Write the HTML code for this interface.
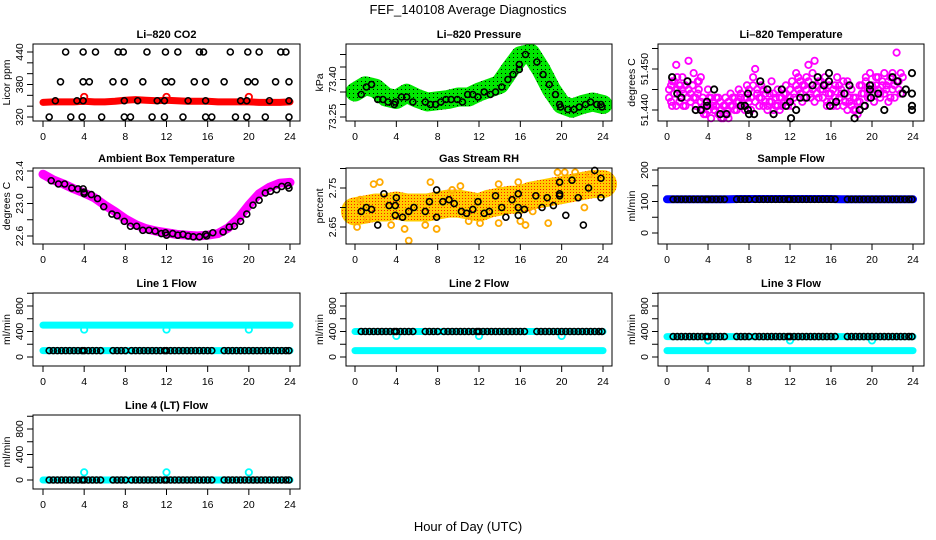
<!DOCTYPE html>
<html><head><meta charset="utf-8"><style>
html,body{margin:0;padding:0;background:#fff}
svg{display:block;font-family:"Liberation Sans",Arial,sans-serif}
</style></head><body>
<svg id="chart" width="936" height="540" viewBox="0 0 936 540" xmlns="http://www.w3.org/2000/svg">
<defs>
<pattern id="pg" width="4" height="4" patternUnits="userSpaceOnUse"><rect width="4" height="4" fill="#00e600"/><rect x="1" y="1" width="1" height="1" fill="#000"/></pattern>
<pattern id="po" width="3" height="3" patternUnits="userSpaceOnUse"><rect width="3" height="3" fill="#ffcc00"/><rect width="1" height="1" fill="#ff2000"/></pattern>
</defs>
<text x="468" y="14" font-size="13" text-anchor="middle">FEF_140108  Average Diagnostics</text>
<text x="468" y="531" font-size="13" text-anchor="middle">Hour of Day (UTC)</text>
</svg>
<script>
// ---- data ----
const bandHours=[0,1,2,3,4,5,6,7,8,9,10,11,12,13,14,15,16,17,18,19,20,21,22,23,24];
const co2Band=[347,348,348,348,349,348,348,349,351,352,351,350,351,350,349,349,349,348,348,348,348,347,347,347,348];
const co2RedOutH=[4,12,20];
const co2RedOutV=[357,357,357];
const co2BlackH=[2.2,3.9,5.1,7.3,7.8,10.1,11.9,13.1,15.2,15.6,18.2,19.9,21.0,23.1,23.6, 1.7,3.9,4.5,6.8,7.9,9.7,11.9,12.5,14.7,15.8,17.6,19.9,20.6,22.6,23.9, 1.2,3.3,3.9,7.9,9.2,11.1,11.8,14.1,15.8,19.2,19.8,22.0,23.9, 0.6,2.7,3.8,5.7,7.9,8.5,10.6,11.8,13.6,15.8,16.4,18.7,19.8,21.6,23.9];
const co2BlackV=[440,440,440,440,440,440,440,440,440,440,440,440,440,440,440, 385,385,385,385,385,385,385,385,385,385,385,385,385,385,385, 350,350,350,350,350,350,350,350,350,350,350,350,350, 320,320,320,320,320,320,320,320,320,320,320,320,320,320,320];
const presBand=[73.35,73.375,73.365,73.33,73.32,73.345,73.325,73.31,73.315,73.32,73.33,73.33,73.35,73.365,73.38,73.44,73.495,73.505,73.44,73.36,73.30,73.285,73.30,73.31,73.30];
const presBlackH=[0.6,1.1,1.6,2.2,2.7,3.2,3.8,3.9,4.5,5.0,5.6,6.8,7.3,7.8,8.3,8.8,9.3,9.9,10.4,10.9,11.4,11.9,12.5,13.1,13.6,14.2,14.8,15.3,15.9,15.9,16.5,17.6,18.2,18.8,19.4,19.8,19.9,20.6,21.2,21.7,22.3,22.8,23.4,23.8,23.9];
const presBlackV=[73.34,73.37,73.38,73.32,73.32,73.31,73.30,73.31,73.33,73.33,73.31,73.31,73.30,73.30,73.31,73.32,73.32,73.32,73.31,73.34,73.34,73.33,73.35,73.34,73.35,73.37,73.40,73.42,73.46,73.44,73.50,73.47,73.42,73.38,73.34,73.30,73.29,73.28,73.28,73.29,73.30,73.31,73.30,73.30,73.29];
const tempH=[0.2,0.4,0.5,0.7,0.9,1.0,1.2,1.3,1.5,1.6,1.8,2.0,2.1,2.3,2.5,2.6,2.8,3.0,3.1,3.3,3.5,3.6,3.8,4.0,4.1,4.3,4.5,4.6,4.8,5.0,5.2,5.3,5.5,5.7,5.9,6.0,6.2,6.4,6.6,6.8,7.0,7.2,7.4,7.6,7.8,8.0,8.2,8.4,8.6,8.8,9.0,9.2,9.4,9.6,9.8,10.0,10.2,10.4,10.6,10.8,11.0,11.2,11.4,11.6,11.8,12.0,12.2,12.4,12.6,12.8,13.0,13.2,13.4,13.6,13.8,14.0,14.2,14.4,14.6,14.8,15.0,15.2,15.4,15.6,15.8,16.0,16.2,16.4,16.6,16.8,17.0,17.2,17.4,17.6,17.8,18.0,18.2,18.4,18.6,18.8,19.0,19.2,19.4,19.6,19.8,20.0,20.2,20.4,20.6,20.8,21.0,21.2,21.4,21.6,21.8,22.0,22.2,22.4,22.6,22.8,23.0,23.2,23.4,23.6,23.8];
const tempV1=[51.443,51.446,51.441,51.447,51.451,51.445,51.442,51.446,51.448,51.444,51.441,51.447,51.452,51.444,51.446,51.449,51.443,51.447,51.445,51.448,51.440,51.439,51.442,51.445,51.440,51.443,51.441,51.440,51.443,51.439,51.442,51.440,51.438,51.441,51.439,51.442,51.444,51.441,51.443,51.440,51.442,51.444,51.441,51.443,51.446,51.442,51.440,51.448,51.450,51.445,51.443,51.446,51.441,51.444,51.440,51.442,51.447,51.444,51.441,51.445,51.443,51.441,51.444,51.446,51.442,51.445,51.447,51.443,51.449,51.445,51.447,51.442,51.446,51.448,51.451,51.444,51.449,51.452,51.446,51.443,51.447,51.445,51.448,51.442,51.446,51.444,51.441,51.446,51.448,51.443,51.445,51.441,51.444,51.447,51.442,51.445,51.440,51.443,51.439,51.442,51.446,51.444,51.448,51.443,51.449,51.445,51.442,51.446,51.448,51.444,51.446,51.449,51.445,51.447,51.443,51.449,51.446,51.454,51.447,51.444,51.448];
const tempV2=[51.445,51.442,51.447,51.444,51.441,51.448,51.446,51.443,51.445,51.441,51.446,51.443,51.445,51.442,51.446,51.443,51.441,51.444,51.447,51.442,51.443,51.441,51.439,51.441,51.443,51.438,51.442,51.440,51.441,51.443,51.440,51.438,51.441,51.443,51.440,51.438,51.441,51.443,51.440,51.442,51.445,51.443,51.441,51.440,51.443,51.445,51.443,51.446,51.442,51.444,51.441,51.443,51.445,51.442,51.441,51.444,51.442,51.440,51.443,51.441,51.440,51.443,51.442,51.444,51.441,51.443,51.441,51.444,51.446,51.448,51.444,51.446,51.443,51.445,51.447,51.443,51.445,51.442,51.444,51.447,51.445,51.443,51.446,51.441,51.444,51.442,51.445,51.443,51.441,51.446,51.444,51.447,51.442,51.440,51.443,51.441,51.443,51.440,51.442,51.446,51.444,51.441,51.447,51.445,51.443,51.446,51.444,51.448,51.445,51.443,51.447,51.444,51.446,51.442,51.448,51.445,51.443,51.447,51.445,51.449];
const tempBlackH=[0.5,1.0,1.4,2.0,2.8,3.3,3.9,3.9,4.6,5.2,5.8,7.2,7.6,7.9,7.9,8.0,8.5,9.1,9.8,10.4,11.2,11.6,12.0,12.1,12.6,13.0,13.6,14.2,14.7,15.3,15.8,15.8,15.9,16.5,17.3,17.8,18.3,18.8,19.3,19.8,19.8,19.9,20.6,21.2,22.0,22.5,23.0,23.3,23.9,23.9,23.9,23.9];
const tempBlackV=[51.448,51.444,51.443,51.447,51.440,51.440,51.442,51.441,51.445,51.439,51.439,51.441,51.441,51.444,51.440,51.439,51.439,51.447,51.445,51.439,51.445,51.441,51.442,51.438,51.440,51.443,51.443,51.446,51.448,51.446,51.447,51.449,51.441,51.442,51.444,51.446,51.438,51.440,51.441,51.446,51.445,51.443,51.444,51.440,51.448,51.447,51.444,51.445,51.449,51.444,51.441,51.440];
const ambBand=[23.36,23.29,23.24,23.18,23.13,23.07,22.98,22.90,22.81,22.74,22.69,22.66,22.64,22.62,22.61,22.60,22.61,22.63,22.70,22.82,22.98,23.12,23.20,23.25,23.26];
const ambBlackH=[0.8,1.5,2.1,2.8,3.4,3.9,4.0,4.0,4.7,5.3,5.9,6.7,7.2,7.9,8.5,9.1,9.7,10.3,10.9,11.5,11.9,12.0,12.6,13.1,13.6,14.1,14.6,15.2,15.8,15.9,16.5,17.5,18.1,18.6,19.2,19.8,20.4,21.0,21.6,22.1,22.7,23.2,23.8,23.9];
const ambBlackV=[23.28,23.24,23.24,23.19,23.18,23.18,23.14,23.12,23.11,23.06,22.96,22.87,22.85,22.78,22.72,22.72,22.67,22.67,22.66,22.63,22.64,22.61,22.63,22.61,22.62,22.60,22.59,22.59,22.62,22.60,22.64,22.65,22.71,22.72,22.78,22.87,22.98,23.04,23.13,23.15,23.17,23.21,23.22,23.19];
const rhBand=[2.69,2.695,2.70,2.70,2.705,2.70,2.70,2.70,2.705,2.71,2.71,2.705,2.70,2.71,2.715,2.72,2.72,2.73,2.735,2.74,2.745,2.75,2.755,2.76,2.76];
const rhOutH=[0.2,5.2,4.8,7.9,3.5,6.8,12.1,13.9,16.0,18.7,1.8,2.4,7.3,10.2,13.9,15.8,19.6,22.7,21.3,20.3,22.2,16.5,0.5,1.2,9.4,11.0,17.2];
const rhOutV=[2.65,2.615,2.645,2.645,2.655,2.655,2.66,2.66,2.665,2.66,2.76,2.765,2.765,2.755,2.76,2.765,2.79,2.785,2.79,2.79,2.70,2.655,2.72,2.67,2.745,2.665,2.69];
const rhBlackH=[0.6,1.1,1.6,2.2,2.8,3.3,3.9,3.9,4.0,4.6,5.2,5.7,6.8,7.2,7.9,7.9,8.5,9.1,9.6,10.3,10.8,11.4,11.9,12.5,13.0,13.6,14.2,14.6,15.2,15.8,15.8,15.8,16.4,17.5,18.1,18.6,19.2,19.8,19.8,19.8,20.4,21.0,21.6,22.1,22.6,23.2,23.8,23.8];
const rhBlackV=[2.69,2.70,2.695,2.655,2.735,2.705,2.705,2.68,2.725,2.675,2.69,2.70,2.69,2.715,2.745,2.675,2.715,2.72,2.71,2.69,2.685,2.695,2.715,2.685,2.69,2.73,2.70,2.675,2.72,2.735,2.70,2.68,2.695,2.73,2.70,2.725,2.705,2.765,2.735,2.73,2.68,2.77,2.725,2.655,2.75,2.795,2.775,2.725];
const flowHours=[0.6,1.0,1.4,1.8,2.2,2.6,3.0,3.4,3.8,4.0,4.4,4.8,5.2,5.6,6.8,7.2,7.6,8.0,8.6,9.0,9.4,9.8,10.2,10.6,11.0,11.4,11.8,12.0,12.4,12.8,13.2,13.6,14.0,14.4,14.8,15.2,15.6,16.0,16.4,17.6,18.0,18.4,18.8,19.2,19.6,20.0,20.4,20.8,21.2,21.6,22.0,22.4,22.8,23.2,23.6,23.9];
const sampleBand=[107,107,107,107,107,107,107,108,108,108,108,108,108,108,108,108,108,107,107,107,107,107,107,107,107];
const sampleBlackV=107;
const line1Cyan=[500,100]; const line1Black=100; const line1OutV=430;
const line2Cyan=[400,100]; const line2Black=400; const line2OutV=330;
const line3Cyan=[320,100]; const line3Black=320; const line3OutV=260;
const line4Cyan=[0]; const line4Black=0; const line4OutV=120;
const outHours=[4,12,20];
const xTicks=[0,4,8,12,16,20,24];

const NS="http://www.w3.org/2000/svg";
const svg=document.getElementById('chart');
function mk(tag,attrs,parent){const e=document.createElementNS(NS,tag);for(const k in attrs)e.setAttribute(k,attrs[k]);(parent||svg).appendChild(e);return e;}

const cols=[{l:33,r:300,x0:43,x24:290},{l:346,r:612,x0:355,x24:603},{l:658,r:924,x0:667,x24:913}];
const rows=[{t:44,b:121},{t:168,b:244},{t:293,b:366},{t:415,b:489}];

function panel(name,title,ci,ri,yref,ticks,labels,ylab){
  const c=cols[ci],r=rows[ri];
  const g=mk('g',{});
  
  
  const X=h=>c.x0+h*(c.x24-c.x0)/24;
  const Y=v=>yref[1]+(v-yref[0])*(yref[3]-yref[1])/(yref[2]-yref[0]);
  const t=mk('text',{x:(c.l+c.r)/2,y:r.t-6,'font-size':11,'font-weight':'bold','text-anchor':'middle'},g);
  t.textContent=title;
  
  
  const data=mk('g',{},g);
  
  
  const box=mk('rect',{x:c.l,y:r.t,width:c.r-c.l,height:r.b-r.t,fill:'none',stroke:'#000','stroke-width':1},g);
  
  
  const xa=mk('g',{},g);
  
  
  mk('line',{x1:X(0),x2:X(24),y1:r.b,y2:r.b,stroke:'#000'},xa);
  xTicks.forEach(h=>{mk('line',{x1:X(h),x2:X(h),y1:r.b,y2:r.b+6,stroke:'#000'},xa);
    const tl=mk('text',{x:X(h),y:r.b+19,'font-size':10.5,'text-anchor':'middle'},xa);tl.textContent=h;});
  const ya=mk('g',{},g);
  
  
  mk('line',{x1:c.l,x2:c.l,y1:Y(ticks[0]),y2:Y(ticks[ticks.length-1]),stroke:'#000'},ya);
  ticks.forEach(v=>mk('line',{x1:c.l-6,x2:c.l,y1:Y(v),y2:Y(v),stroke:'#000'},ya));
  labels.forEach(v=>{const yy=Y(v);const tl=mk('text',{x:c.l-10,y:yy,'font-size':10.5,'text-anchor':'middle',transform:`rotate(-90 ${c.l-10} ${yy})`},ya);tl.textContent=v;});
  const yl=mk('text',{x:c.l-23,y:(r.t+r.b)/2,'font-size':10.5,'text-anchor':'middle',transform:`rotate(-90 ${c.l-23} ${(r.t+r.b)/2})`},ya);
  yl.textContent=ylab;
  
  
  return {X,Y,g:data};
}
function band(p,hs,vs,color,w){
  const pts=hs.map((h,i)=>p.X(h)+','+p.Y(vs[i])).join(' ');
  const e=mk('polyline',{points:pts,fill:'none',stroke:color,'stroke-width':w,'stroke-linejoin':'round','stroke-linecap':'round'},p.g);
  
  
}
function hline(p,v,color,w){
  const e=mk('line',{x1:p.X(0),x2:p.X(24),y1:p.Y(v),y2:p.Y(v),stroke:color,'stroke-width':w,'stroke-linecap':'round'},p.g);
  
  
}
function pts(p,hs,vs,color,rad,sw){
  const n=Math.min(hs.length,vs.length);
  for(let i=0;i<n;i++){
    const e=mk('circle',{cx:p.X(hs[i]),cy:p.Y(vs[i]),r:rad||3,fill:'none',stroke:color,'stroke-width':sw||1.6},p.g);
    
    
  }
}
function constPts(p,hs,v,color){pts(p,hs,hs.map(()=>v),color);}

// CO2
let p=panel('co2','Li\u2013820 CO2',0,0,[320,117,440,52],[320,340,360,380,400,420,440],[320,380,440],'Licor ppm');
band(p,bandHours,co2Band,'#ff0000',7);
pts(p,co2RedOutH,co2RedOutV,'#ff0000',3.2,1.8);
pts(p,co2BlackH,co2BlackV,'#000');
// Pressure
p=panel('pressure','Li\u2013820 Pressure',1,0,[73.25,117,73.40,79.5],[73.25,73.30,73.35,73.40,73.45,73.50],[73.25,'73.40'],'kPa');
band(p,bandHours,presBand,'url(#pg)',19);
pts(p,presBlackH,presBlackV,'#000');
// Temperature
p=panel('li820-temp','Li\u2013820 Temperature',2,0,[51.44,110,51.45,69],[51.440,51.445,51.450,51.455],['51.440','51.450'],'degrees C');
pts(p,tempH,tempV1,'#ff00ff',3.2,1.8);
pts(p,tempH,tempV2,'#ff00ff',3.2,1.8);
pts(p,tempBlackH,tempBlackV,'#000',3.2,1.8);
// Ambient
p=panel('ambient','Ambient Box Temperature',0,1,[22.6,236,23.4,171],[22.6,22.8,23.0,23.2,23.4],['22.6','23.0','23.4'],'degrees C');
band(p,bandHours,ambBand,'#ff00ff',9);
pts(p,ambBlackH,ambBlackV,'#000');
// RH
p=panel('rh','Gas Stream RH',1,1,[2.65,227,2.75,188],[2.65,2.70,2.75,2.80],['2.65','2.75'],'percent');
band(p,bandHours,rhBand,'url(#po)',28);
pts(p,rhOutH,rhOutV,'#ffaa00',3,1.8);
pts(p,rhBlackH,rhBlackV,'#000');
// Sample flow
p=panel('sample-flow','Sample Flow',2,1,[0,233,200,170],[0,50,100,150,200],[0,100,200],'ml/min');
band(p,bandHours,sampleBand,'#0000ff',8);
constPts(p,flowHours,sampleBlackV,'#000');
// Line flows
const fticks=[0,200,400,600,800,1000],flab=[0,400,800];
p=panel('line1','Line 1 Flow',0,2,[0,357,400,331.5],fticks,flab,'ml/min');
line1Cyan.forEach(v=>hline(p,v,'#00ffff',7));
pts(p,outHours,outHours.map(()=>line1OutV),'#00ffff',3.2,1.8);
constPts(p,flowHours,line1Black,'#000');
p=panel('line2','Line 2 Flow',1,2,[0,357,400,331.5],fticks,flab,'ml/min');
line2Cyan.forEach(v=>hline(p,v,'#00ffff',7));
pts(p,outHours,outHours.map(()=>line2OutV),'#00ffff',3.2,1.8);
constPts(p,flowHours,line2Black,'#000');
p=panel('line3','Line 3 Flow',2,2,[0,357,400,331.5],fticks,flab,'ml/min');
line3Cyan.forEach(v=>hline(p,v,'#00ffff',7));
pts(p,outHours,outHours.map(()=>line3OutV),'#00ffff',3.2,1.8);
constPts(p,flowHours,line3Black,'#000');
p=panel('line4','Line 4 (LT) Flow',0,3,[0,480,400,454.5],fticks,flab,'ml/min');
line4Cyan.forEach(v=>hline(p,v,'#00ffff',7));
pts(p,outHours,outHours.map(()=>line4OutV),'#00ffff',3.2,1.8);
constPts(p,flowHours,line4Black,'#000');
</script>
</body></html>
